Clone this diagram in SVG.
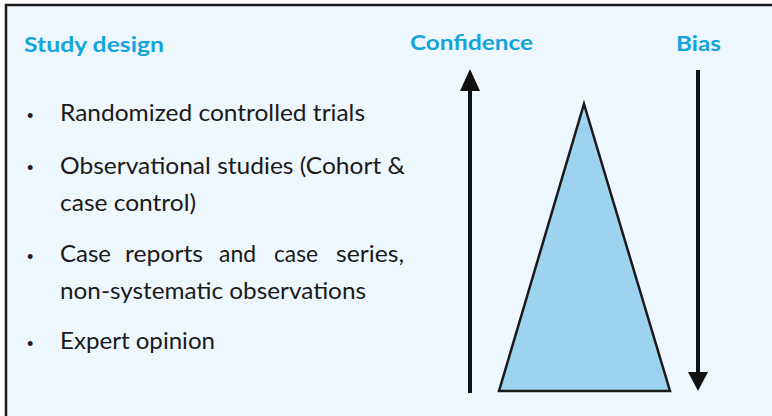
<svg xmlns="http://www.w3.org/2000/svg" width="772" height="416" viewBox="0 0 772 416">
<style>
.bg{fill:#EEF6FE;stroke:#1a1a1a;stroke-width:2.5}
.h{font-family:Lato,"Open Sans",sans-serif;font-weight:bold;font-size:21px;fill:#13A4DA}
.t{font-family:Lato,"Open Sans",sans-serif;font-size:23px;fill:#1a1a1a}
.b{font-family:"Liberation Sans",sans-serif;font-size:18px;fill:#1a1a1a}
.ar{stroke:#111;stroke-width:4;fill:none}
.ah{fill:#111}
.tri{fill:#9DD3EE;stroke:#1a1a1a;stroke-width:2.5;stroke-linejoin:miter}
</style>
<rect class="bg" x="6" y="5" width="780" height="420"/>
<g id="title">
<text class="h" x="24" y="52" textLength="140" lengthAdjust="spacingAndGlyphs">Study design</text>
</g>
<g id="list">
<text class="b" x="27" y="122">•</text>
<text class="t" x="60" y="121" textLength="305" lengthAdjust="spacingAndGlyphs">Randomized controlled trials</text>
<text class="b" x="27" y="174">•</text>
<text class="t" x="60" y="174" textLength="345" lengthAdjust="spacingAndGlyphs">Observational studies (Cohort &amp;</text>
<text class="t" x="60" y="211" textLength="136" lengthAdjust="spacingAndGlyphs">case control)</text>
<text class="b" x="27" y="263">•</text>
<text class="t" x="60" y="262" textLength="51" lengthAdjust="spacingAndGlyphs">Case</text>
<text class="t" x="125" y="262" textLength="78" lengthAdjust="spacingAndGlyphs">reports</text>
<text class="t" x="219" y="262" textLength="37" lengthAdjust="spacingAndGlyphs">and</text>
<text class="t" x="274" y="262" textLength="44" lengthAdjust="spacingAndGlyphs">case</text>
<text class="t" x="336" y="262" textLength="68" lengthAdjust="spacingAndGlyphs">series,</text>
<text class="t" x="60" y="299" textLength="306" lengthAdjust="spacingAndGlyphs">non-systematic observations</text>
<text class="b" x="27" y="350">•</text>
<text class="t" x="60" y="349" textLength="155" lengthAdjust="spacingAndGlyphs">Expert opinion</text>
</g>
<g id="confidence">
<text class="h" x="410" y="50" textLength="123" lengthAdjust="spacingAndGlyphs">Confidence</text>
</g>
<g id="bias">
<text class="h" x="676" y="51" textLength="45" lengthAdjust="spacingAndGlyphs">Bias</text>
</g>
<g id="pyramid">
<polygon class="tri" points="584,104 670,391 499,391"/>
</g>
<g id="connectors">
<line class="ar" x1="470" y1="393" x2="470" y2="88"/>
<polygon class="ah" points="470,69 480,91 460,91"/>
<line class="ar" x1="698" y1="70" x2="698" y2="374"/>
<polygon class="ah" points="698,391 708,372 688,372"/>
</g>
</svg>
